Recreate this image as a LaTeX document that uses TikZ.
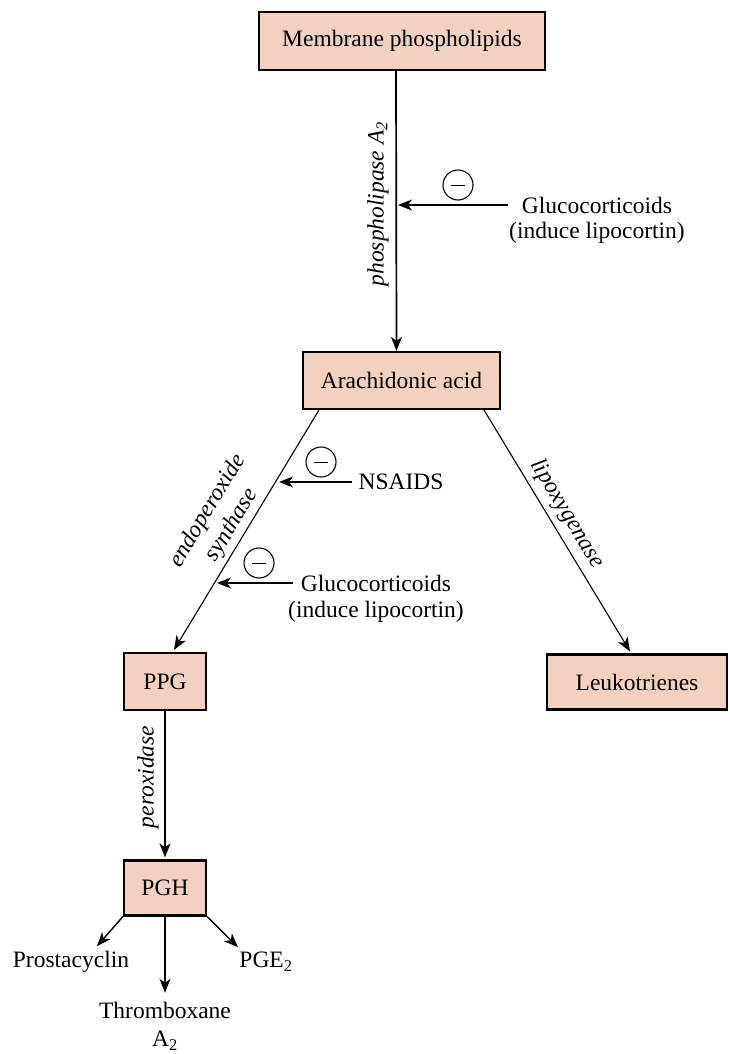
\documentclass[tikz,border=0pt]{standalone}
\usepackage{fontspec}
\setmainfont{Liberation Serif}
\usetikzlibrary{arrows.meta}
\definecolor{boxfill}{HTML}{F2D1C1}
\begin{document}
\begin{tikzpicture}[x=1pt,y=-1pt,
 every node/.style={font=\fontsize{23.5}{28}\selectfont, inner sep=0pt},
 box/.style={draw, line width=2.2pt, fill=boxfill, minimum height=57pt},
 arr/.style={line width=1.7pt, -{Stealth[length=14pt,width=11pt,inset=4pt]}},
 thinarr/.style={line width=1.1pt, -{Stealth[length=14pt,width=11pt,inset=4pt]}},
 inhib/.style={draw, circle, line width=1.1pt, minimum size=30pt,
   path picture={\draw[line width=1pt] ([xshift=-7pt]path picture bounding box.center) -- ([xshift=7pt]path picture bounding box.center);}},
 enz/.style={font=\fontsize{23.5}{28}\selectfont\itshape, align=center}
]
\useasboundingbox (0,0) rectangle (729,1054);

% boxes
\node[box, minimum width=286pt, minimum height=58pt] (mem) at (402,41) {Membrane phospholipids};
\node[box, minimum width=197pt] (ara) at (401.5,380.5) {Arachidonic acid};
\node[box, minimum width=82pt] (ppg) at (165,681.5) {PPG};
\node[box, minimum width=82pt, minimum height=55pt] (pgh) at (165,888) {PGH};
\node[box, minimum width=180pt, minimum height=55pt] (leuk) at (637,682) {Leukotrienes};

% main vertical
\draw[arr] ([xshift=-6pt]mem.south) -- ([xshift=-5pt]ara.north);
\node[enz, rotate=90] (pla) at (378,204) {phospholipase A\textsubscript{2}};

% inhibitor 1
\node (g1a) at (597,205) {Glucocorticoids};
\node (g1b) at (597,233) {(induce lipocortin)};
\coordinate (t1) at (398,205);
\draw[arr, line width=1.5pt] ([xshift=-14pt]g1a.west) -- (t1);
\node[inhib] (c1) at (458,185) {};

% diagonal left
\draw[thinarr] ([xshift=17pt]ara.south west) -- ([xshift=9pt,yshift=2pt]ppg.north);
\node[enz, rotate=59] (endo) at (220,518) {endoperoxide\\synthase};

% NSAIDS
\node (ns) at (401,482) {NSAIDS};
\coordinate (t2) at (279,482);
\draw[thinarr, line width=1.2pt] ([xshift=-6pt]ns.west) -- (t2);
\node[inhib] (c2) at (321,462) {};

% inhibitor 3
\node (g2a) at (376,583) {Glucocorticoids};
\node (g2b) at (376,612) {(induce lipocortin)};
\coordinate (t3) at (217,583);
\draw[thinarr, line width=1.2pt] ([xshift=-8pt]g2a.west) -- (t3);
\node[inhib] (c3) at (259,563) {};

% diagonal right
\draw[thinarr] ([xshift=-17pt]ara.south east) -- ([xshift=-7pt,yshift=2pt]leuk.north);
\node[enz, rotate=-59] (lipo) at (567,514) {lipoxygenase};

% PPG -> PGH
\draw[arr] (ppg.south) -- ([yshift=2pt]pgh.north);
\node[enz, rotate=90] (perox) at (148,777) {peroxidase};

% bottom products
\node (prost) at (71,962) {Prostacyclin};
\node (pge) at (266,962) {PGE\textsubscript{2}};
\node[align=center] (thr) at (165,1026) {Thromboxane\\A\textsubscript{2}};
\draw[thinarr, line width=1.4pt] (pgh.south west) -- ([xshift=26pt,yshift=5pt]prost.north);
\draw[thinarr, line width=1.4pt] (pgh.south east) -- ([xshift=-28pt,yshift=5pt]pge.north);
\draw[arr, line width=1.5pt] (pgh.south) -- ([yshift=9pt]thr.north);
\end{tikzpicture}
\end{document}
